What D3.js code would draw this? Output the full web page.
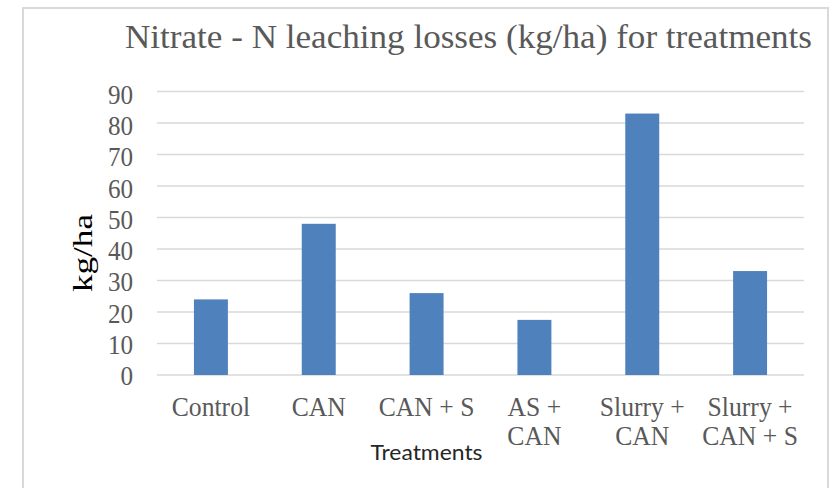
<!doctype html>
<html>
<head>
  <script src="https://cdnjs.cloudflare.com/ajax/libs/d3/7.8.5/d3.min.js"></script>
  <style>
    body { margin: 0; background: #fff; }
    svg { display: block; }
  </style>
</head>
<body>
  <svg width="829" height="488"></svg>
  <script>
    // data
    var treatments = ["Control", "CAN", "CAN + S", "AS + CAN", "Slurry + CAN", "Slurry + CAN + S"]
    var labelLines = [["Control"], ["CAN"], ["CAN + S"], ["AS +", "CAN"], ["Slurry +", "CAN"], ["Slurry +", "CAN + S"]]
    var leaching = [24, 48, 26, 17.5, 83, 33]
    var yTicks = [0, 10, 20, 30, 40, 50, 60, 70, 80, 90]

    var svg = d3.select("svg")
    var serif = "'Liberation Serif', 'Times New Roman', serif"

    // outer chart border
    svg.append("rect")
      .attr("x", 23).attr("y", 8)
      .attr("width", 805).attr("height", 500)
      .attr("fill", "none")
      .attr("stroke", "#d9d9d9")
      .attr("stroke-width", 2)

    var plotLeft = 157, plotRight = 804, plotTop = 91.5, plotBottom = 375

    var x = d3.scaleBand()
      .domain(treatments)
      .range([plotLeft, plotRight])
      .paddingInner(0.685)
      .paddingOuter(0.3425)

    var y = d3.scaleLinear()
      .domain([0, 90])
      .range([plotBottom, plotTop])

    // tick labels sit on a slightly tighter scale than the gridlines
    var yLabel = d3.scaleLinear()
      .domain([0, 90])
      .range([385, 104])

    // gridlines
    svg.append("g")
      .selectAll("line")
      .data(yTicks)
      .enter()
      .append("line")
      .attr("x1", plotLeft).attr("x2", plotRight)
      .attr("y1", d => y(d)).attr("y2", d => y(d))
      .attr("stroke", "#d9d9d9")
      .attr("stroke-width", 1.6)

    // y tick labels
    svg.append("g")
      .selectAll("text")
      .data(yTicks)
      .enter()
      .append("text")
      .attr("transform", d => "translate(133," + yLabel(d) + ") scale(0.93,1)")
      .attr("text-anchor", "end")
      .style("font-family", serif)
      .style("font-size", "27px")
      .style("fill", "#595959")
      .text(d => d)

    // bars
    svg.append("g")
      .selectAll("rect")
      .data(leaching)
      .enter()
      .append("rect")
      .attr("x", (d, i) => x(treatments[i]))
      .attr("width", x.bandwidth())
      .attr("y", d => y(d))
      .attr("height", d => y(0) - y(d))
      .attr("fill", "#4f81bd")

    // category labels
    var cat = svg.append("g")
      .selectAll("text")
      .data(labelLines)
      .enter()
      .append("text")
      .attr("transform", (d, i) => "translate(" + (x(treatments[i]) + x.bandwidth() / 2) + ",416) scale(0.95,1)")
      .attr("text-anchor", "middle")
      .style("font-family", serif)
      .style("font-size", "27px")
      .style("fill", "#595959")

    cat.selectAll("tspan")
      .data(d => d)
      .enter()
      .append("tspan")
      .attr("x", 0)
      .attr("y", (d, j) => j * 29)
      .text(d => d)

    // axis titles
    svg.append("text")
      .attr("x", 426.5).attr("y", 460)
      .attr("text-anchor", "middle")
      .attr("textLength", 112)
      .attr("lengthAdjust", "spacingAndGlyphs")
      .style("font-family", "Lato, 'Open Sans', sans-serif")
      .style("font-size", "21px")
      .style("fill", "#262626")
      .text("Treatments")

    svg.append("text")
      .attr("transform", "translate(92,253) rotate(-90)")
      .attr("text-anchor", "middle")
      .attr("textLength", 78)
      .attr("lengthAdjust", "spacingAndGlyphs")
      .style("font-family", serif)
      .style("font-size", "28px")
      .style("fill", "#000")
      .text("kg/ha")

    // title
    svg.append("text")
      .attr("x", 125).attr("y", 48)
      .attr("textLength", 687)
      .attr("lengthAdjust", "spacingAndGlyphs")
      .style("font-family", serif)
      .style("font-size", "33px")
      .style("fill", "#595959")
      .text("Nitrate - N leaching losses (kg/ha) for treatments")
  </script>
</body>
</html>
